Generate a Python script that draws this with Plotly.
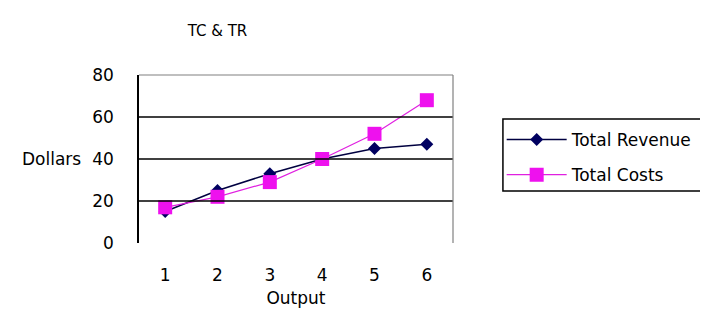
import plotly.graph_objects as go

output = [1, 2, 3, 4, 5, 6]
total_revenue = [15, 25, 33, 40, 45, 47]
total_costs = [17, 22, 29, 40, 52, 68]
y_ticks = [0, 20, 40, 60, 80]
grid_vals = [20, 40, 60]

FONT = "DejaVu Sans"
FS = 17

fig = go.Figure()
fig.add_trace(go.Scatter(
    x=output, y=total_revenue, name="Total Revenue", mode="lines+markers",
    line=dict(color="#000040", width=1.5),
    marker=dict(symbol="diamond", size=10, color="#000060"),
    legendgroup="a",
))
fig.add_trace(go.Scatter(
    x=output, y=total_costs, name="Total Costs", mode="lines+markers",
    line=dict(color="#e020e0", width=1.2),
    marker=dict(symbol="square", size=14, color="#ee11ee"),
    legendgroup="b",
))

shapes = []
for g in grid_vals:
    shapes.append(dict(type="line", xref="paper", yref="y", x0=0, x1=1, y0=g, y1=g,
                       line=dict(color="black", width=1.5)))
# plot-area border (top and right, grey)
shapes.append(dict(type="line", xref="paper", yref="paper", x0=0, x1=1, y0=1, y1=1,
                   line=dict(color="#808080", width=1.2)))
shapes.append(dict(type="line", xref="paper", yref="paper", x0=1, x1=1, y0=0, y1=1,
                   line=dict(color="#808080", width=1.2)))
# legend box
shapes.append(dict(type="rect", xref="paper", yref="paper", x0=1.159, x1=1.95, y0=0.31, y1=0.738,
                   line=dict(color="black", width=1.5)))

fig.update_layout(
    width=708, height=317,
    margin=dict(l=131, r=263, t=67, b=82),
    paper_bgcolor="white", plot_bgcolor="white",
    font=dict(family=FONT, size=FS, color="black"),
    title=dict(text="TC &amp; TR", x=0.25, xref="paper", xanchor="center",
               y=1 - 23 / 317, yref="container", yanchor="middle",
               font=dict(family=FONT, size=15, color="black")),
    showlegend=True,
    legend=dict(x=1.155, xanchor="left", y=0.72, yanchor="top",
                bgcolor="rgba(0,0,0,0)", borderwidth=0,
                traceorder="grouped", tracegroupgap=10, itemwidth=60,
                font=dict(family=FONT, size=FS, color="black")),
    shapes=shapes,
    annotations=[dict(text="Dollars", xref="paper", yref="y", x=-0.178, y=40,
                      xanchor="right", yanchor="middle", showarrow=False,
                      font=dict(family=FONT, size=FS, color="black"))],
)
fig.update_xaxes(
    range=[0.5, 6.5], tickvals=output, ticktext=[str(v) for v in output],
    showgrid=False, zeroline=False, showline=False, ticks="",
    ticklabelstandoff=20,
    title=dict(text="Output", standoff=8, font=dict(family=FONT, size=FS)),
    automargin=False,
)
fig.update_yaxes(
    range=[0, 80], tickvals=y_ticks, showgrid=False, zeroline=False,
    showline=True, linecolor="black", linewidth=1.5, ticks="",
    ticklabelstandoff=20, automargin=False,
)

fig.write_html("out.html")
